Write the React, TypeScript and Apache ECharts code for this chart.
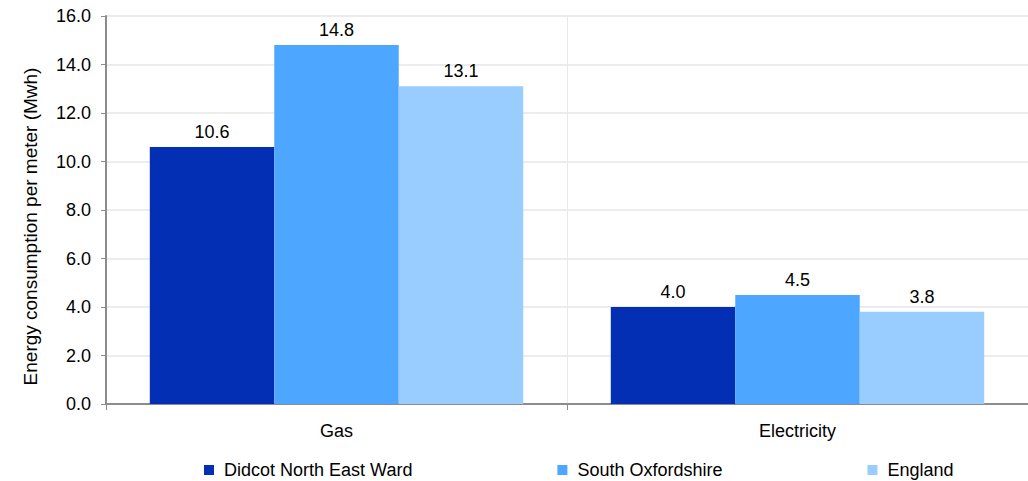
import React, { useEffect, useRef } from "react";
import * as echarts from "echarts";

const categories = ["Gas", "Electricity"];
const seriesNames = ["Didcot North East Ward", "South Oxfordshire", "England"];
const didcot = [10.6, 4.0];
const southOxon = [14.8, 4.5];
const england = [13.1, 3.8];
const colors = ["#022fb3", "#4da6ff", "#99ccff"];

export default function App() {
  const ref = useRef<HTMLDivElement>(null);
  useEffect(() => {
    if (!ref.current) return;
    const chart = echarts.init(ref.current, null, { renderer: "svg" });
    const font = "Liberation Sans, Arial, sans-serif";
    const dataSets = [didcot, southOxon, england];
    chart.setOption({
      animation: false,
      textStyle: { fontFamily: font },
      grid: { left: 106, right: 0, top: 16, bottom: 77, containLabel: false },
      legend: {
        top: 456,
        left: 199,
        itemWidth: 10,
        itemHeight: 10,
        itemGap: 145,
        icon: "rect",
        textStyle: { fontSize: 18, color: "#000", fontFamily: font, padding: [0, 0, 0, 5] },
        data: seriesNames,
      },
      xAxis: {
        type: "category",
        data: categories,
        axisLine: { lineStyle: { color: "#8c8c8c", width: 2 } },
        axisTick: { show: true, length: 6, lineStyle: { color: "#8c8c8c" }, interval: 0 },
        splitLine: { show: true, interval: 0, lineStyle: { color: "#e8e8e8", width: 1 } },
        axisLabel: { fontSize: 18, color: "#000", margin: 18, fontFamily: font },
      },
      yAxis: {
        type: "value",
        min: 0,
        max: 16,
        interval: 2,
        name: "Energy consumption per meter (Mwh)",
        nameLocation: "middle",
        nameGap: 66,
        nameTextStyle: { fontSize: 19, color: "#000", fontFamily: font, padding: [0, 33, 0, 0] },
        axisLine: { show: true, lineStyle: { color: "#8c8c8c", width: 2 } },
        axisTick: { show: true, length: 5, lineStyle: { color: "#8c8c8c" } },
        splitLine: { show: true, lineStyle: { color: "#ececec", width: 2 } },
        axisLabel: {
          fontSize: 18,
          color: "#000",
          margin: 15,
          fontFamily: font,
          formatter: (v: number) => v.toFixed(1),
        },
      },
      series: seriesNames.map((name, i) => ({
        name,
        type: "bar",
        data: dataSets[i],
        barWidth: "27%",
        barGap: "0%",
        itemStyle: { color: colors[i] },
        label: {
          show: true,
          position: "top",
          distance: 6,
          fontSize: 18,
          color: "#000",
          fontFamily: font,
          formatter: (p: any) => Number(p.value).toFixed(1),
        },
      })),
    });
    return () => chart.dispose();
  }, []);
  return <div ref={ref} style={{ width: 1028, height: 481, position: "absolute", left: 0, top: 0 }} />;
}
